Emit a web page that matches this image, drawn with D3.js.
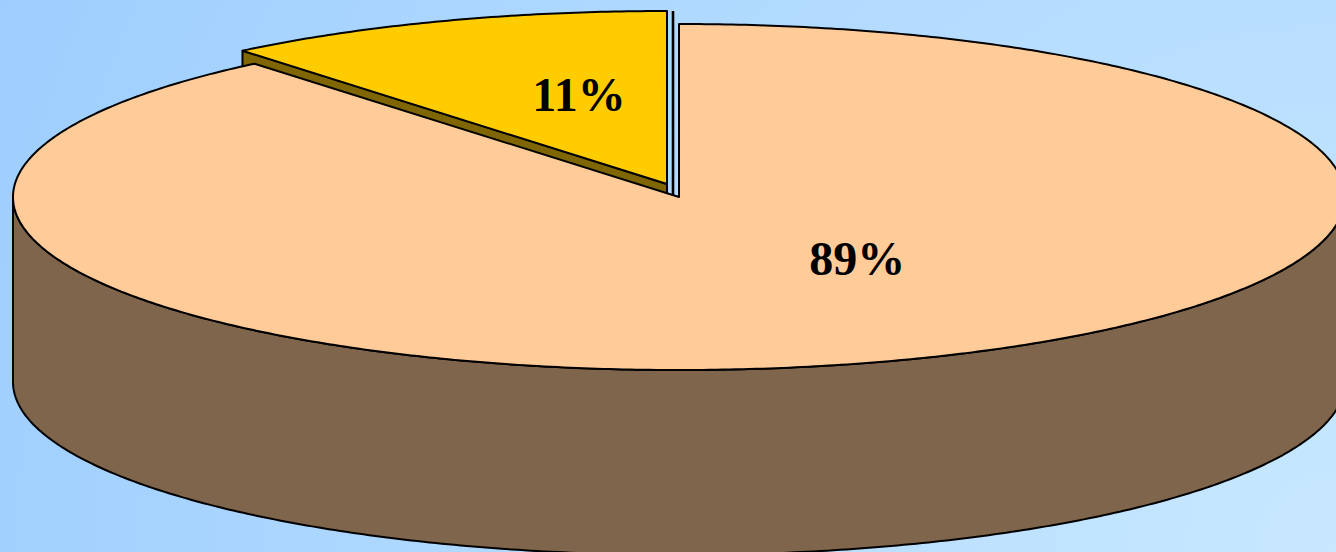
<!DOCTYPE html>
<html>
<head>
<meta charset="utf-8">
<script src="https://cdn.jsdelivr.net/npm/d3@7"></script>
<style>
  html, body { margin: 0; padding: 0; overflow: hidden; }
  svg { display: block; }
</style>
</head>
<body>
<script>
// ---- data ----
const sliceNames  = ["Share A", "Share B"];
const sliceValues = [89, 11];
const sliceLabels = ["89%", "11%"];

// ---- styles / layout ----
const topColors  = ["#FFCC99", "#FFCC00"];
const sideColors = ["#7E654B", "#806600"];
const W = 1336, H = 552;
const cx = 679, cy = 197, rx = 666, ry = 173, depth = 185;
const explodeOffsets = [[0, 0], [-12, -13]];
const labelFactors = [[0.79, 0.375], [0.39, 0.55]];

const svg = d3.select("body").append("svg").attr("width", W).attr("height", H);
const defs = svg.append("defs");
const grad = defs.append("radialGradient").attr("id", "bg")
  .attr("gradientUnits", "userSpaceOnUse")
  .attr("cx", W).attr("cy", H).attr("r", 1450);
grad.append("stop").attr("offset", 0).attr("stop-color", "#C8E8FF");
grad.append("stop").attr("offset", 1).attr("stop-color", "#9ECEFF");
svg.append("rect").attr("width", W).attr("height", H).attr("fill", "url(#bg)");

const pie = d3.pie().sort(null).value(d => d)(sliceValues);

// elliptical projection scales
const xs = d3.scaleLinear().domain([-1, 1]).range([-rx, rx]);
const ys = d3.scaleLinear().domain([-1, 1]).range([-ry, ry]);
function pt(c, a, dz) { return [c[0] + xs(Math.sin(a)), c[1] - ys(Math.cos(a)) + (dz || 0)]; }
function arcPts(c, a0, a1, dz) {
  const n = Math.max(2, Math.ceil(Math.abs(a1 - a0) / 0.01));
  return d3.range(n + 1).map(i => pt(c, a0 + (a1 - a0) * i / n, dz));
}
const line = d3.line();
const centers = pie.map((p, i) => [cx + explodeOffsets[i][0], cy + explodeOffsets[i][1]]);

const g = svg.append("g").attr("stroke", "#000").attr("stroke-width", 2).attr("stroke-linejoin", "round");

function drawSlice(i) {
  const p = pie[i], c = centers[i];
  // radial cut face at start angle if facing viewer (left-back quadrant)
  if (p.startAngle > Math.PI) {
    const e = pt(c, p.startAngle);
    g.append("path").attr("fill", sideColors[i])
      .attr("d", line([c, e, [e[0], e[1] + depth], [c[0], c[1] + depth]]) + "Z");
  }
  // outer front side
  const s0 = Math.max(p.startAngle, Math.PI / 2), s1 = Math.min(p.endAngle, 3 * Math.PI / 2);
  if (s1 > s0) {
    const topArc = arcPts(c, s0, s1, 0);
    const botArc = arcPts(c, s0, s1, depth).reverse();
    g.append("path").attr("fill", sideColors[i]).attr("d", line(topArc.concat(botArc)) + "Z");
  }
  // top face
  g.append("path").attr("fill", topColors[i])
    .attr("d", line([c].concat(arcPts(c, p.startAngle, p.endAngle, 0))) + "Z");
}

// back (exploded) slice first, then the big slice
drawSlice(1);
// edge line between the two slices at the 12 o'clock cut
const eTop = pt(centers[1], pie[1].endAngle);
g.append("line")
  .attr("stroke-width", 2.6)
  .attr("x1", (centers[0][0] + centers[1][0]) / 2).attr("x2", (centers[0][0] + centers[1][0]) / 2)
  .attr("y1", eTop[1]).attr("y2", centers[0][1]);
drawSlice(0);

// labels
pie.forEach((p, i) => {
  const mid = (p.startAngle + p.endAngle) / 2;
  const c = centers[i];
  const x = c[0] + labelFactors[i][0] * xs(Math.sin(mid));
  const y = c[1] - labelFactors[i][1] * ys(Math.cos(mid));
  svg.append("text")
    .attr("x", x).attr("y", y).attr("dy", "0.35em")
    .attr("text-anchor", "middle")
    .attr("font-family", "'Liberation Serif', 'Times New Roman', serif")
    .attr("font-weight", "bold").attr("font-size", 48)
    .attr("fill", "#000")
    .text(sliceLabels[i]);
});
</script>
</body>
</html>
